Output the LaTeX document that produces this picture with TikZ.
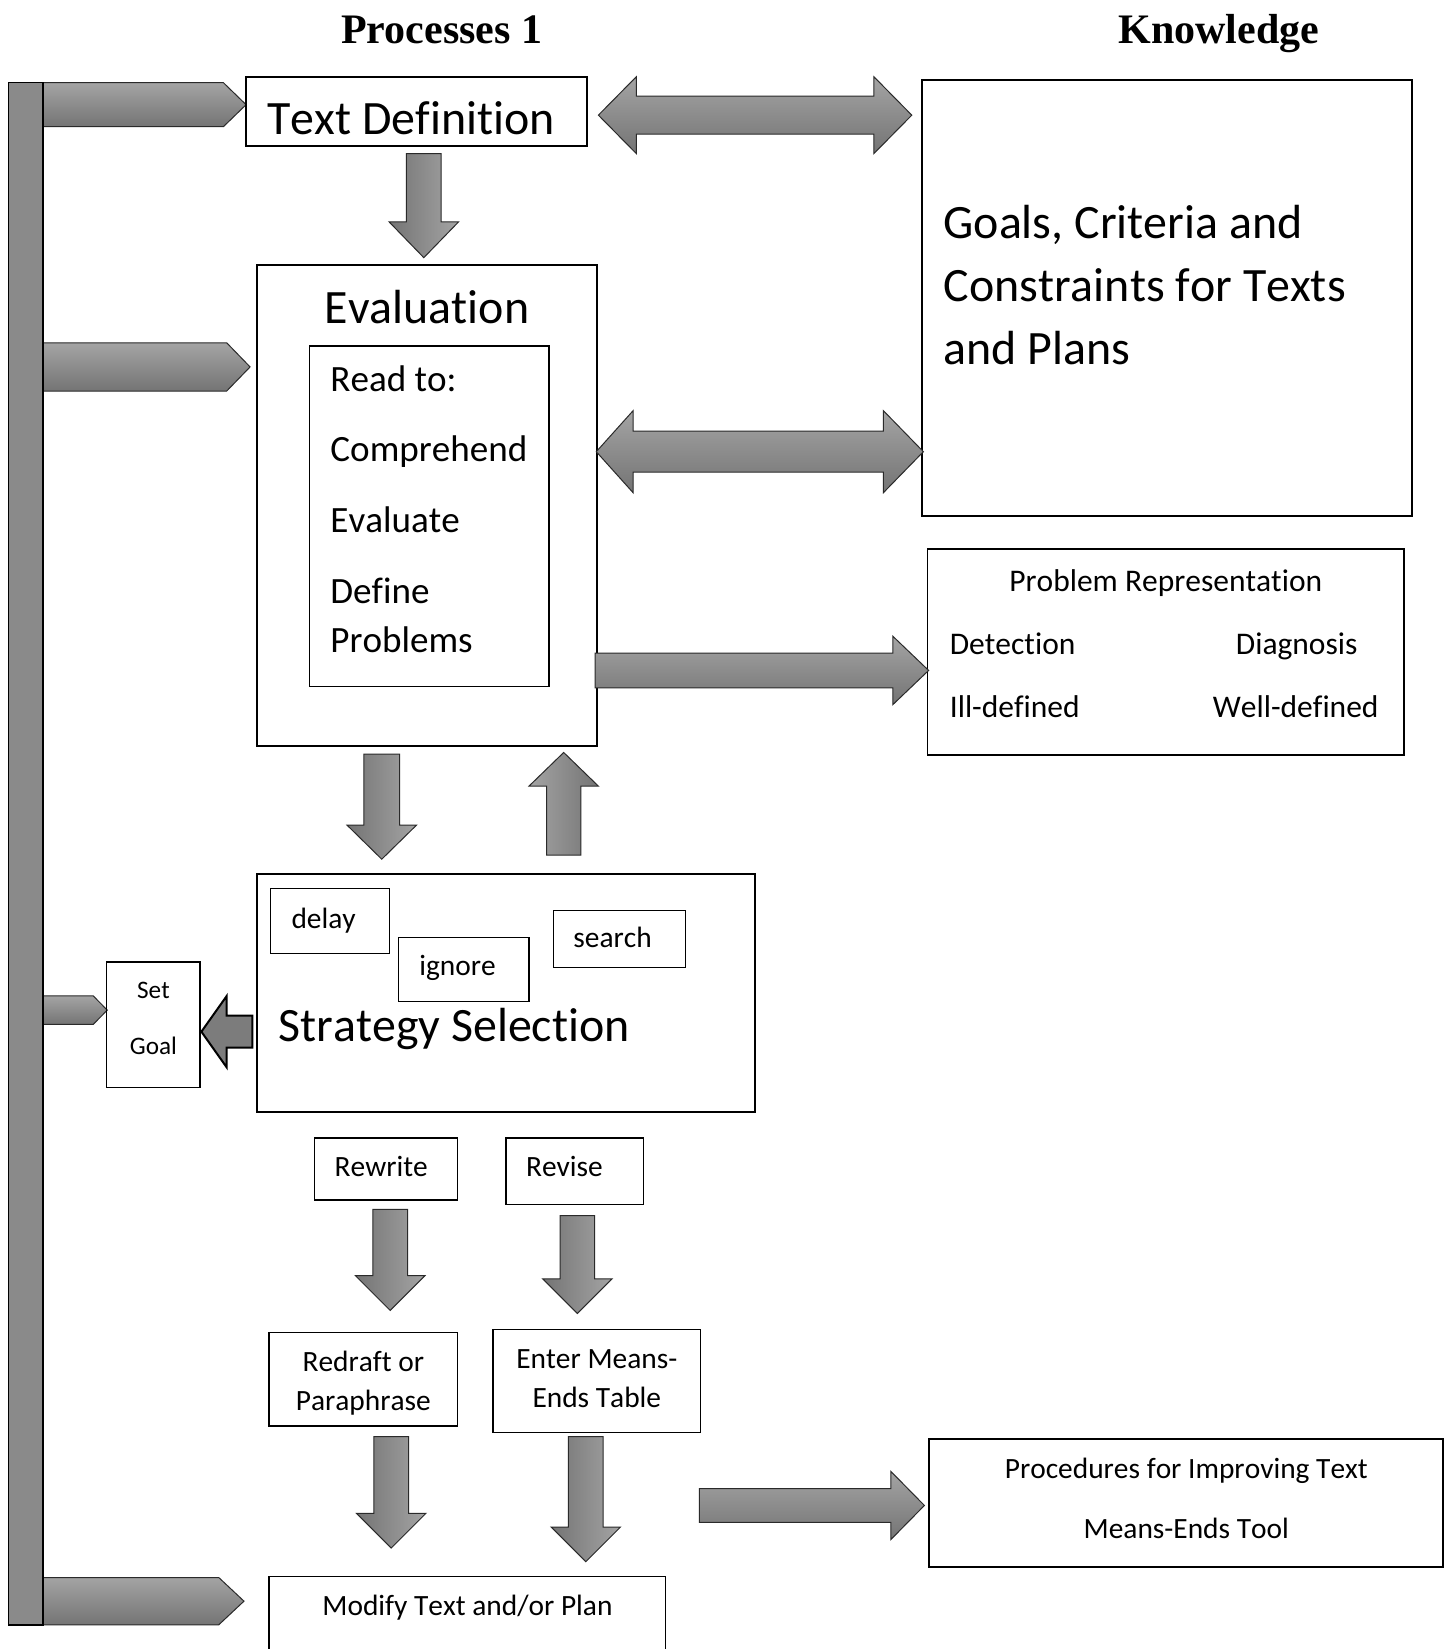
\documentclass[tikz,border=0pt]{standalone}
\usepackage{fontspec}
\setmainfont{Carlito}[Kerning=Off, Ligatures=NoCommon]
\newfontfamily\headfont{Liberation Serif}
\usetikzlibrary{fit}

\definecolor{arrLight}{HTML}{A4A4A4}
\definecolor{arrDark}{HTML}{747474}
\definecolor{barGray}{HTML}{8A8A8A}
\definecolor{solidGray}{HTML}{7C7C7C}
\definecolor{edgeGray}{HTML}{2A2A2A}

\newcommand{\setfs}[1]{\fontsize{#1}{#1}\selectfont}

% horizontal block arrow: style, x start, x head base, x tip, y centre, shaft half, head half
\newcommand{\hblock}[7]{%
  \draw[#1] (#2,{#5-#6}) -- (#3,{#5-#6}) -- (#3,{#5-#7}) -- (#4,#5)
    -- (#3,{#5+#7}) -- (#3,{#5+#6}) -- (#2,{#5+#6}) -- cycle;}
% vertical block arrow: style, y start, y head base, y tip, x centre, shaft half, head half
\newcommand{\vblock}[7]{%
  \draw[#1] ({#5-#6},#2) -- ({#5+#6},#2) -- ({#5+#6},#3) -- ({#5+#7},#3)
    -- (#5,#4) -- ({#5-#7},#3) -- ({#5-#6},#3) -- cycle;}
% double-headed horizontal block arrow: style, left tip, left base, right base, right tip, y centre, shaft half, head half
\newcommand{\dblock}[8]{%
  \draw[#1] (#2,#6) -- (#3,{#6-#8}) -- (#3,{#6-#7}) -- (#4,{#6-#7}) -- (#4,{#6-#8})
    -- (#5,#6) -- (#4,{#6+#8}) -- (#4,{#6+#7}) -- (#3,{#6+#7}) -- (#3,{#6+#8}) -- cycle;}
% pentagon tag pointing right: style, x start, x base, x tip, y top, y bottom
\newcommand{\tagblock}[6]{%
  \draw[#1] (#2,#5) -- (#3,#5) -- (#4,{(#5+#6)/2}) -- (#3,#6) -- (#2,#6) -- cycle;}

\begin{document}
\begin{tikzpicture}[x=1.0515pt,y=-1.0515pt,
  box/.style={draw=black, line width=1.8pt, inner sep=0pt},
  thinbox/.style={draw=black, line width=1.1pt, inner sep=0pt},
  txt/.style={inner sep=0pt, anchor=base},
  txtl/.style={inner sep=0pt, anchor=base west},
  txtr/.style={inner sep=0pt, anchor=base east},
  hshade/.style={draw=edgeGray, line width=1pt, line join=miter, top color=arrLight, bottom color=arrDark},
  vshade/.style={draw=edgeGray, line width=1pt, line join=miter, left color=arrDark, right color=arrLight},
  ushade/.style={draw=edgeGray, line width=1pt, line join=miter, left color=arrLight, right color=arrDark},
  solidarrow/.style={draw=black, line width=2pt, line join=miter, fill=solidGray},
  big/.style={font=\setfs{47.9}},
  mid/.style={font=\setfs{37.1}},
  med/.style={font=\setfs{31.5}},
  small/.style={font=\setfs{29.4}},
  tiny/.style={font=\setfs{25.2}}
]
\useasboundingbox (0,0) rectangle (1379,1568);
\fill[white] (0,0) rectangle (1379,1568);

% column headings
\node[txt, font=\headfont\bfseries\setfs{42}] (hproc) at (420,41) {Processes 1};
\node[txt, font=\headfont\bfseries\setfs{42}] (hknow) at (1159,41) {Knowledge};

% monitor bar and its tags
\tagblock{hshade}{41}{212.4}{234}{78.6}{120.5}
\tagblock{hshade}{41}{215.6}{237.8}{326}{371.8}
\tagblock{hshade}{41}{88.7}{102}{947}{974}
\tagblock{hshade}{41}{208}{232}{1500}{1545}
\draw[draw=black, line width=1.4pt, fill=barGray] (8,78.6) rectangle (41,1545);

% process boxes
\node[box, fit={(234,73) (558,139)}] (textdef) {};
\node[txtl, big] (textdefl) at (254,128) {Text Definition};

\node[box, fit={(244,252) (568,709)}] (eval) {};
\node[txt, big] (evall) at (406,308) {Evaluation};
\node[thinbox, fit={(294,329) (522,653)}] (readto) {};
\node[txtl, mid] (r1) at (314,372) {Read to:};
\node[txtl, mid] (r2) at (314,439) {Comprehend};
\node[txtl, mid] (r3) at (314,506) {Evaluate};
\node[txtl, mid] (r4) at (314,574) {Define};
\node[txtl, mid] (r5) at (314,620) {Problems};

\node[box, fit={(244.6,831) (718,1057.5)}] (strat) {};
\node[thinbox, fit={(257.4,844.7) (370,907)}] (delay) {};
\node[txtl, small] (delayl) at (277,882.6) {delay};
\node[thinbox, fit={(378.6,891.8) (503,952.6)}] (ignore) {};
\node[txtl, small] (ignorel) at (398.5,928) {ignore};
\node[thinbox, fit={(526,865.5) (652,919.7)}] (search) {};
\node[txtl, small] (searchl) at (545,900.7) {search};
\node[txtl, big] (stratl) at (264.7,990) {Strategy Selection};

\node[box, line width=1.4pt, fit={(101.5,914.6) (190.2,1033.8)}] (setgoal) {};
\node[txt, tiny] (setl) at (145.9,949) {Set};
\node[txt, tiny] (goall) at (145.9,1003) {Goal};

\node[thinbox, line width=1.3pt, fit={(299,1082) (435,1141)}] (rewrite) {};
\node[txt, small] (rewritel) at (362.5,1119) {Rewrite};
\node[thinbox, line width=1.3pt, fit={(481,1082) (612,1145)}] (revise) {};
\node[txtl, small] (revisel) at (500,1119) {Revise};

\node[box, line width=1.5pt, fit={(256,1267) (435,1356)}] (redraft) {};
\node[txt, small] (redraft1) at (345.5,1304) {Redraft or};
\node[txt, small] (redraft2) at (345.5,1341) {Paraphrase};
\node[box, line width=1.5pt, fit={(469,1264) (666,1362)}] (enter) {};
\node[txt, small] (enter1) at (567.5,1301) {Enter Means-};
\node[txt, small] (enter2) at (567.5,1338) {Ends Table};

\draw[line width=1.5pt] (256,1580) -- (256,1499) coordinate (modtl) -- (633,1499) coordinate (modtr) -- (633,1580);
\node[txt, small] (modifyl) at (444.5,1536) {Modify Text and/or Plan};

% knowledge boxes
\node[box, fit={(877,76) (1343,491)}] (goals) {};
\node[txtl, big] (g1) at (897,227) {Goals, Criteria and};
\node[txtl, big] (g2) at (897,287) {Constraints for Texts};
\node[txtl, big] (g3) at (897,347) {and Plans};

\node[box, fit={(882,522) (1335,718)}] (probrep) {};
\node[txt, med] (pr0) at (1108.5,562) {Problem Representation};
\node[txtl, med] (pr1) at (903,622) {Detection};
\node[txtr, med] (pr2) at (1291,622) {Diagnosis};
\node[txtl, med] (pr3) at (903,682) {Ill-defined};
\node[txtr, med] (pr4) at (1311,682) {Well-defined};

\node[box, fit={(883,1368) (1372,1490)}] (proc) {};
\node[txt, small] (proc1) at (1128,1406) {Procedures for Improving Text};
\node[txt, small] (proc2) at (1128,1463) {Means-Ends Tool};

% block arrows between the boxes
\dblock{hshade}{569}{605}{831}{867}{109.5}{18}{36.5}
\dblock{hshade}{567}{602}{840}{878}{429.5}{19.5}{39}
\hblock{hshade}{566}{849}{883}{637.5}{16.5}{32.5}
\hblock{hshade}{665}{847}{879}{1431.5}{16}{32.5}

\vblock{vshade}{146}{211}{245}{403}{16.5}{33}
\vblock{vshade}{717}{784.6}{817}{363}{17}{33}
\vblock{ushade}{813}{747.5}{715.5}{536}{16.3}{33}
\vblock{vshade}{1150}{1213}{1246}{371}{16.5}{33}
\vblock{vshade}{1156}{1216}{1249}{549}{16.5}{33}
\vblock{vshade}{1366}{1439}{1472}{372}{16.5}{33}
\vblock{vshade}{1366}{1452}{1485}{557}{16.5}{33}

\hblock{solidarrow}{240}{215.6}{191.5}{981}{15.2}{34}
\end{tikzpicture}
\end{document}
